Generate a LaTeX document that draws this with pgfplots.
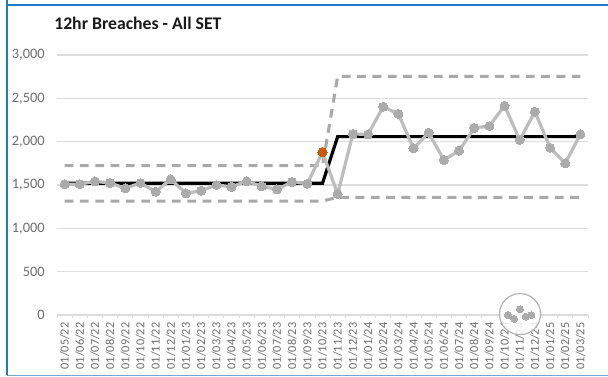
\documentclass[border=0pt]{standalone}
\usepackage{pgfplots}
\pgfplotsset{compat=1.18}
\usepackage{fontspec}
\setmainfont{Carlito}
\definecolor{txt}{HTML}{6E6E6E}
\definecolor{gridc}{HTML}{DCDCDC}
\definecolor{dline}{HTML}{BDBDBD}
\definecolor{dmark}{HTML}{ABABAB}
\definecolor{lim}{HTML}{A9A9A9}
\definecolor{orng}{HTML}{C55A11}
\definecolor{bord}{HTML}{1B7CC4}
\definecolor{bordb}{HTML}{6FA8D6}
\pgfplotstableread{
x y
0 1507
1 1510
2 1542
3 1523
4 1462
5 1523
6 1423
7 1565
8 1404
9 1434
10 1500
11 1480
12 1542
13 1485
14 1450
15 1535
16 1515
17 1880
18 1396
19 2088
20 2085
21 2404
22 2320
23 1923
24 2104
25 1788
26 1896
27 2158
28 2181
29 2415
30 2020
31 2346
32 1930
33 1750
34 2085
}\datatable
\begin{document}
\begin{tikzpicture}
\useasboundingbox (0,0) rectangle (456pt,282pt);
\fill[white] (0,0) rectangle (456pt,282pt);
\draw[bord,line width=0.9pt] (5.25pt,282pt) -- (5.25pt,0.6pt) ;
\draw[bord,line width=0.9pt] (5.25pt,278.2pt) -- (456pt,278.2pt);
\draw[bordb,line width=0.9pt] (5.25pt,0.6pt) -- (456pt,0.6pt);
\begin{axis}[
  at={(42.75pt,45.75pt)},anchor=south west,
  scale only axis,width=398.25pt,height=195pt,
  xmin=-0.5,xmax=34.5,ymin=0,ymax=3000,
  clip=false,
  axis line style={draw=none},
  axis x line*=bottom,
  axis y line*=left,
  ytick={0,500,1000,1500,2000,2500,3000},
  ymajorgrids,
  grid style={gridc,line width=0.8pt},
  major tick length=0pt,
  minor tick length=2.2pt,
  minor xtick={-0.5,0.5,...,34.5},
  minor tick style={gridc,line width=0.6pt},
  xtick={0,1,...,34},
  xticklabels={01/05/22,01/06/22,01/07/22,01/08/22,01/09/22,01/10/22,01/11/22,01/12/22,01/01/23,01/02/23,01/03/23,01/04/23,01/05/23,01/06/23,01/07/23,01/08/23,01/09/23,01/10/23,01/11/23,01/12/23,01/01/24,01/02/24,01/03/24,01/04/24,01/05/24,01/06/24,01/07/24,01/08/24,01/09/24,01/10/24,01/11/24,01/12/24,01/01/25,01/02/25,01/03/25},
  xticklabel style={rotate=90,anchor=east,font=\fontsize{9.2}{10}\selectfont,text=txt,inner sep=0pt},
  yticklabel style={font=\fontsize{10.8}{12}\selectfont,text=txt,inner sep=0pt},
  xtick pos=bottom,
  tick align=outside,
  xticklabel shift=5.5pt,
  yticklabel shift=9pt,
  /pgf/number format/assume math mode=true,
  /pgf/number format/1000 sep={,},
  scaled y ticks=false,
]
\draw[gridc,line width=0.8pt] (axis cs:-0.5,0) -- (axis cs:34.5,0);
% limits
\addplot[lim,line width=2.3pt,dash pattern=on 6.6pt off 4.9pt] coordinates {
(0,1723)(1,1723)(2,1723)(3,1723)(4,1723)(5,1723)(6,1723)(7,1723)(8,1723)(9,1723)(10,1723)(11,1723)(12,1723)(13,1723)(14,1723)(15,1723)(16,1723)(17,1723)(18,2754)(19,2754)(20,2754)(21,2754)(22,2754)(23,2754)(24,2754)(25,2754)(26,2754)(27,2754)(28,2754)(29,2754)(30,2754)(31,2754)(32,2754)(33,2754)(34,2754)};
\addplot[lim,line width=2.3pt,dash pattern=on 6.6pt off 4.9pt] coordinates {
(0,1315)(1,1315)(2,1315)(3,1315)(4,1315)(5,1315)(6,1315)(7,1315)(8,1315)(9,1315)(10,1315)(11,1315)(12,1315)(13,1315)(14,1315)(15,1315)(16,1315)(17,1315)(18,1358)(19,1358)(20,1358)(21,1358)(22,1358)(23,1358)(24,1358)(25,1358)(26,1358)(27,1358)(28,1358)(29,1358)(30,1358)(31,1358)(32,1358)(33,1358)(34,1358)};
% mean
\addplot[black,line width=2.4pt] coordinates {
(0,1520)(1,1520)(2,1520)(3,1520)(4,1520)(5,1520)(6,1520)(7,1520)(8,1520)(9,1520)(10,1520)(11,1520)(12,1520)(13,1520)(14,1520)(15,1520)(16,1520)(17,1520)(18,2058)(19,2058)(20,2058)(21,2058)(22,2058)(23,2058)(24,2058)(25,2058)(26,2058)(27,2058)(28,2058)(29,2058)(30,2058)(31,2058)(32,2058)(33,2058)(34,2058)};
% data
\addplot[dline,line width=2.4pt,mark=*,mark size=3.4pt,mark options={draw=dmark,fill=dmark,line width=0pt,solid}] table[x=x,y=y] {\datatable};
\addplot[only marks,mark=*,mark size=3.5pt,mark options={draw=orng,fill=orng,line width=0pt}] coordinates {(17,1880)};
% icon
\addplot[only marks,mark=*,mark size=15.4pt,mark options={draw=gray!65,fill=white,line width=0.8pt,fill opacity=0.85}] coordinates {(30.02,10)};
\addplot[dmark,line width=2pt,mark=*,mark size=2.6pt,mark options={draw=dmark,fill=dmark,line width=0pt}] coordinates {(29.23,0)(29.63,-46)(30.02,66)(30.39,-20)(30.77,0)};
\end{axis}
\node[anchor=west,inner sep=0pt,font=\fontsize{13.3}{15}\bfseries\selectfont,text=black!90] at (40.5pt,264.5pt) {12hr Breaches - All SET};
\end{tikzpicture}
\end{document}
